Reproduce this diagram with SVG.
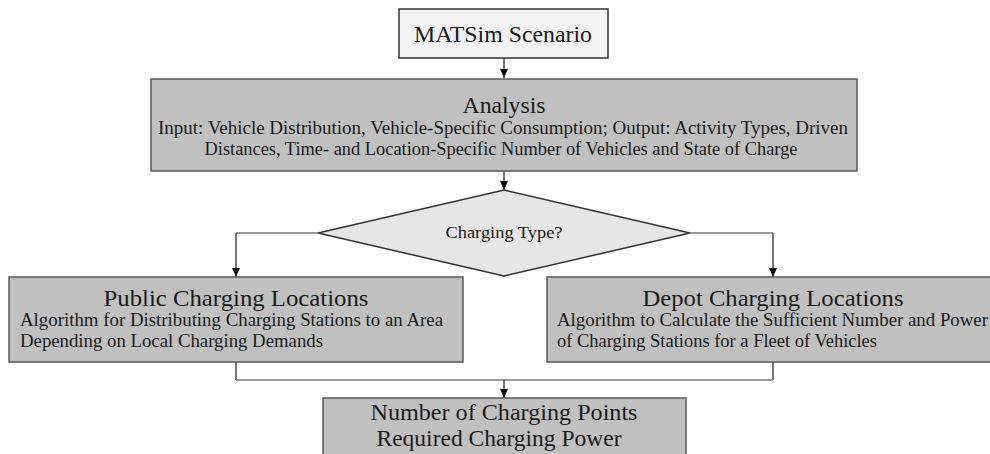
<svg xmlns="http://www.w3.org/2000/svg" width="990" height="454" viewBox="0 0 990 454">
<style>
text{font-family:"Liberation Serif","DejaVu Serif",serif;fill:#1a1a1a;}
.t{font-size:24px;text-anchor:middle;}
.s{font-size:18px;}
.m{text-anchor:middle;}
.box{fill:#c0c0c0;stroke:#5a5a5a;stroke-width:1.5;}
.v{stroke:#1a1a1a;stroke-width:1.2;fill:none;}
.h{stroke:#7a7a7a;stroke-width:1.5;fill:none;}
</style>
<defs>
<marker id="ah" markerWidth="10" markerHeight="10" refX="9" refY="5" orient="auto" markerUnits="userSpaceOnUse">
<path d="M0,1 L9,5 L0,9 Z" fill="#111"/>
</marker>
</defs>
<rect width="990" height="454" fill="#fff"/>
<g id="connectors">
<line class="v" x1="504" y1="58" x2="504" y2="78" marker-end="url(#ah)"/>
<line class="v" x1="504" y1="171" x2="504" y2="190" marker-end="url(#ah)"/>
<line class="h" x1="318" y1="233" x2="236" y2="233"/>
<line class="v" x1="236" y1="233" x2="236" y2="277" marker-end="url(#ah)"/>
<line class="h" x1="690" y1="233" x2="773" y2="233"/>
<line class="v" x1="773" y1="233" x2="773" y2="277" marker-end="url(#ah)"/>
<line class="v" x1="236" y1="362" x2="236" y2="380"/>
<line class="v" x1="773" y1="362" x2="773" y2="380"/>
<line class="h" x1="236" y1="380" x2="773" y2="380"/>
<line class="v" x1="504" y1="380" x2="504" y2="398" marker-end="url(#ah)"/>
</g>
<g id="matsim">
<rect x="399" y="9" width="209" height="49" fill="#f2f2f2" stroke="#333" stroke-width="1.5"/>
<text class="t" x="503" y="42" textLength="178" lengthAdjust="spacingAndGlyphs">MATSim Scenario</text>
</g>
<g id="analysis">
<rect class="box" x="151" y="79" width="706" height="92"/>
<text class="t" x="504" y="113" textLength="83" lengthAdjust="spacingAndGlyphs">Analysis</text>
<text class="s m" x="503" y="134" textLength="690" lengthAdjust="spacingAndGlyphs">Input:  Vehicle Distribution, Vehicle-Specific Consumption; Output:  Activity Types, Driven</text>
<text class="s m" x="501" y="155" textLength="593" lengthAdjust="spacingAndGlyphs">Distances, Time- and Location-Specific Number of Vehicles and State of Charge</text>
</g>
<g id="decision">
<polygon points="504,190 690,233 504,276 318,233" fill="#e6e6e6" stroke="#333" stroke-width="1.5"/>
<text class="m" x="504" y="238" style="font-size:16px" textLength="117" lengthAdjust="spacingAndGlyphs">Charging Type?</text>
</g>
<g id="public">
<rect class="box" x="9" y="277" width="454" height="85"/>
<text class="t" x="236" y="306" textLength="265" lengthAdjust="spacingAndGlyphs">Public Charging Locations</text>
<text class="s" x="20" y="326" textLength="423" lengthAdjust="spacingAndGlyphs">Algorithm for Distributing Charging Stations to an Area</text>
<text class="s" x="20" y="347" textLength="303" lengthAdjust="spacingAndGlyphs">Depending on Local Charging Demands</text>
</g>
<g id="depot">
<rect class="box" x="547" y="277" width="450" height="85"/>
<text class="t" x="773" y="306" textLength="261" lengthAdjust="spacingAndGlyphs">Depot Charging Locations</text>
<text class="s" x="557" y="326" textLength="431" lengthAdjust="spacingAndGlyphs">Algorithm to Calculate the Sufficient Number and Power</text>
<text class="s" x="557" y="347" textLength="320" lengthAdjust="spacingAndGlyphs">of Charging Stations for a Fleet of Vehicles</text>
</g>
<g id="result">
<rect class="box" x="323" y="398" width="363" height="70"/>
<text class="t" x="504" y="420" textLength="267" lengthAdjust="spacingAndGlyphs">Number of Charging Points</text>
<text class="t" x="499" y="446" textLength="245" lengthAdjust="spacingAndGlyphs">Required Charging Power</text>
</g>
</svg>
